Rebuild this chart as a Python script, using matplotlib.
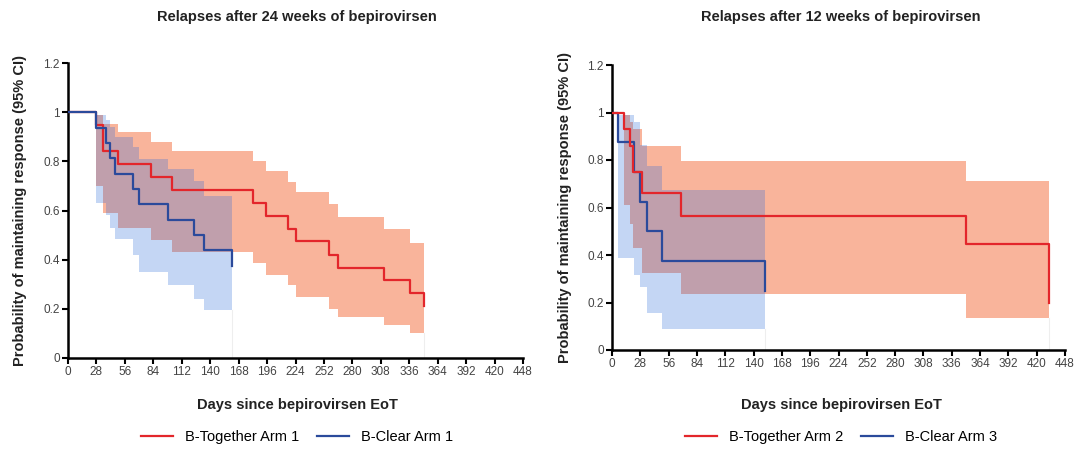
import matplotlib.pyplot as plt

plt.rcParams['font.family'] = ['Liberation Sans', 'DejaVu Sans']

RED = '#e3262b'
BLUE = '#2b4a9b'
RED_BAND = '#f9b49b'
BLUE_BAND = (40 / 255, 104 / 255, 218 / 255)
TEXT = '#222222'

x_ticks = list(range(0, 449, 28))
y_ticks = [0, 0.2, 0.4, 0.6, 0.8, 1, 1.2]
y_tick_labels = ['0', '0.2', '0.4', '0.6', '0.8', '1', '1.2']

# left panel: 24 weeks of bepirovirsen
left_red_t = [0, 28, 34, 49, 82, 102, 182, 195, 217, 224, 257, 266, 311, 337, 351]
left_red_s = [1, 0.947, 0.842, 0.789, 0.737, 0.684, 0.632, 0.579, 0.526,
              0.474, 0.421, 0.368, 0.316, 0.263, 0.211]
left_red_ci_t = [28, 34, 49, 82, 102, 182, 195, 217, 224, 257, 266, 311, 337, 351]
left_red_hi = [0.99, 0.95, 0.92, 0.877, 0.844, 0.80, 0.76, 0.715, 0.675,
               0.625, 0.573, 0.526, 0.468, 0.468]
left_red_lo = [0.70, 0.59, 0.53, 0.48, 0.43, 0.385, 0.337, 0.296, 0.249,
               0.20, 0.168, 0.134, 0.10, 0.10]

left_blue_t = [0, 28, 37, 41, 46, 64, 70, 98, 124, 134, 161]
left_blue_s = [1, 0.9375, 0.875, 0.8125, 0.75, 0.6875, 0.625, 0.5625, 0.5,
               0.4375, 0.375]
left_blue_ci_t = [28, 37, 41, 46, 64, 70, 98, 124, 134, 161]
left_blue_hi = [0.99, 0.97, 0.94, 0.90, 0.86, 0.81, 0.77, 0.72, 0.66, 0.66]
left_blue_lo = [0.63, 0.58, 0.53, 0.486, 0.418, 0.35, 0.296, 0.242, 0.197, 0.197]

# right panel: 12 weeks of bepirovirsen
right_red_t = [0, 12, 18, 21, 30, 68, 350, 432]
right_red_s = [1, 0.93, 0.86, 0.75, 0.66, 0.5625, 0.445, 0.2]
right_red_ci_t = [12, 18, 21, 30, 68, 350, 432]
right_red_hi = [0.99, 0.96, 0.93, 0.86, 0.795, 0.71, 0.71]
right_red_lo = [0.61, 0.53, 0.43, 0.323, 0.236, 0.134, 0.134]

right_blue_t = [0, 6, 22, 28, 35, 49, 151]
right_blue_s = [1, 0.875, 0.75, 0.625, 0.5, 0.375, 0.25]
right_blue_ci_t = [6, 22, 28, 35, 49, 151]
right_blue_hi = [0.99, 0.96, 0.865, 0.776, 0.675, 0.675]
right_blue_lo = [0.387, 0.316, 0.267, 0.155, 0.087, 0.087]


def style_axes(ax):
    ax.set_xlim(0, 448)
    ax.set_ylim(0, 1.2)
    ax.set_xticks(x_ticks)
    ax.set_yticks(y_ticks)
    ax.set_yticklabels(y_tick_labels)
    for side in ('top', 'right'):
        ax.spines[side].set_visible(False)
    for side in ('left', 'bottom'):
        ax.spines[side].set_linewidth(1.8)
    ax.tick_params(direction='out', length=4, width=1.5,
                   labelsize=8.5, labelcolor='#444444', pad=2)
    ax.set_ylabel('Probability of maintaining response (95% CI)', fontsize=10.5,
                  fontweight='bold', color=TEXT)


def draw_band(ax, t, lo, hi, color, alpha):
    ax.fill_between(t, lo, hi, step='post', color=color, alpha=alpha,
                    linewidth=0, zorder=1)
    # faint marker where the band ends
    ax.plot([t[-1], t[-1]], [0, lo[-1]], color='#eeeeee', lw=0.8, zorder=0.5)


def draw_panel(ax, red, blue, labels, title, blue_on_top, x_center):
    draw_band(ax, red[2], red[4], red[3], RED_BAND, 1.0)
    draw_band(ax, blue[2], blue[4], blue[3], BLUE_BAND, 0.27)
    z_red, z_blue = (3, 4) if blue_on_top else (4, 3)
    ax.step(red[0], red[1], where='post', color=RED, lw=1.6,
            zorder=z_red, label=labels[0])
    ax.step(blue[0], blue[1], where='post', color=BLUE, lw=1.6,
            zorder=z_blue, label=labels[1])
    style_axes(ax)

    # titles, x labels and legends sit at fixed heights in the figure
    fig.text(x_center / 1089, 1 - 17 / 450, title, ha='center', va='center',
             fontsize=10.5, fontweight='bold', color=TEXT)
    fig.text(x_center / 1089, 1 - 405 / 450, 'Days since bepirovirsen EoT',
             ha='center', va='center', fontsize=10.5, fontweight='bold', color=TEXT)
    ax.legend(loc='center', bbox_to_anchor=(x_center / 1089, 1 - 437 / 450),
              bbox_transform=fig.transFigure, ncol=2, frameon=False,
              fontsize=10.5, handlelength=2.2, columnspacing=1.2,
              handletextpad=0.8)


fig = plt.figure(figsize=(10.89, 4.5), dpi=100)
ax_left = fig.add_axes([68 / 1089, 92 / 450, 455 / 1089, 295 / 450])
ax_right = fig.add_axes([612 / 1089, 100 / 450, 453 / 1089, 285 / 450])

draw_panel(ax_left,
           (left_red_t, left_red_s, left_red_ci_t, left_red_hi, left_red_lo),
           (left_blue_t, left_blue_s, left_blue_ci_t, left_blue_hi, left_blue_lo),
           ('B-Together Arm 1', 'B-Clear Arm 1'),
           'Relapses after 24 weeks of bepirovirsen', True, 297)
draw_panel(ax_right,
           (right_red_t, right_red_s, right_red_ci_t, right_red_hi, right_red_lo),
           (right_blue_t, right_blue_s, right_blue_ci_t, right_blue_hi, right_blue_lo),
           ('B-Together Arm 2', 'B-Clear Arm 3'),
           'Relapses after 12 weeks of bepirovirsen', False, 841)

ax_left.yaxis.set_label_coords(-0.09, 0.5)
ax_right.yaxis.set_label_coords(-0.088, 0.5)

fig.savefig('out.png', dpi=100)
